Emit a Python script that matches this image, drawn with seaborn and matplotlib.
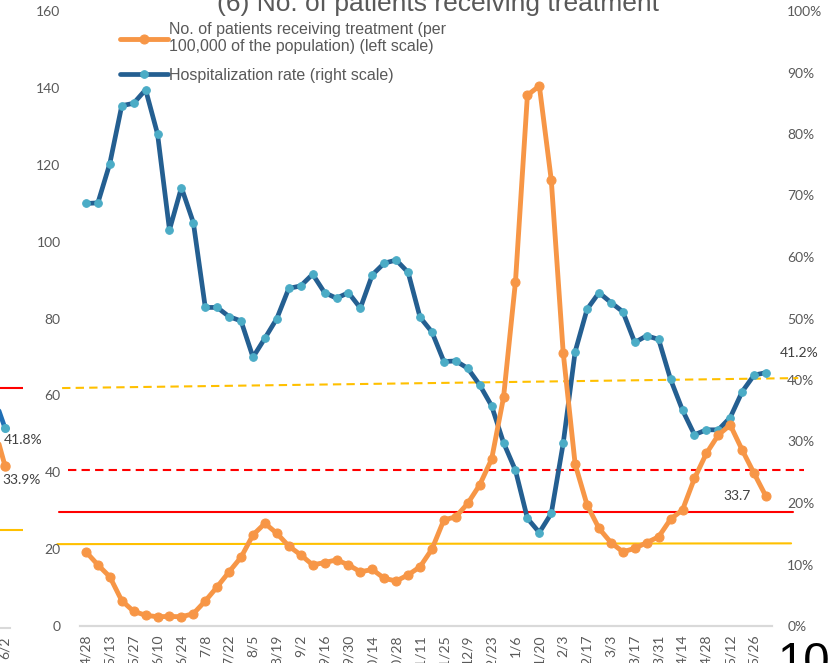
import numpy as np
import pandas as pd
import matplotlib.pyplot as plt
from matplotlib.ticker import FuncFormatter, MultipleLocator
import seaborn as sns

# ---------------------------------------------------------------
#   (6) No. of patients receiving treatment - weekly, two scales
# ---------------------------------------------------------------

# tick labels (every other week)
week_labels = ["4/28", "5/13", "5/27", "6/10", "6/24", "7/8", "7/22", "8/5",
               "8/19", "9/2", "9/16", "9/30", "10/14", "10/28", "11/11",
               "11/25", "12/9", "12/23", "1/6", "1/20", "2/3", "2/17", "3/3",
               "3/17", "3/31", "4/14", "4/28", "5/12", "5/26"]

# patients per 100,000 of the population (left scale)
patients = [19.3, 15.9, 12.8, 6.6, 3.8, 2.8, 2.4, 2.5, 2.4, 3.2,
            6.5, 10.2, 14.1, 17.9, 23.7, 26.7, 24.1, 20.8, 18.5, 15.9,
            16.5, 17.2, 15.9, 14.1, 14.7, 12.4, 11.7, 13.3, 15.4, 20.0,
            27.6, 28.4, 31.9, 36.7, 43.4, 59.5, 89.6, 138.1, 140.5, 116.0,
            71.1, 42.1, 31.5, 25.4, 21.7, 19.3, 20.2, 21.7, 23.2, 27.8,
            30.2, 38.4, 44.9, 49.7, 52.3, 45.8, 39.7, 33.7]

# hospitalization rate, % (right scale)
hosp_rate = [68.7, 68.8, 75.2, 84.6, 85.0, 87.2, 80.0, 64.4, 71.3, 65.6,
             51.8, 51.8, 50.3, 49.6, 43.7, 46.8, 50.0, 54.9, 55.3, 57.2,
             54.2, 53.3, 54.2, 51.7, 57.1, 59.0, 59.5, 57.5, 50.2, 47.8,
             43.0, 43.1, 41.9, 39.2, 35.8, 29.8, 25.3, 17.5, 15.2, 18.3,
             29.7, 44.6, 51.5, 54.2, 52.6, 51.1, 46.1, 47.2, 46.6, 40.1,
             35.1, 31.1, 31.9, 31.9, 33.9, 38.1, 40.8, 41.2]

# reference lines, left-scale units (start, end)
red_solid = (29.6, 29.6)
red_dashed = (40.6, 40.6)
yellow_solid = (21.3, 21.5)
yellow_dashed = (61.9, 64.5)

# tail of the neighbouring chart (cut off at the left edge)
prev_label = "6/2"
prev_rate = [49.0, 41.8]
prev_patients = [43.0, 33.9]
prev_red = 50.2
prev_yellow = 20.5

df = pd.DataFrame({"week": np.arange(len(patients)),
                   "patients": patients,
                   "rate": hosp_rate})

sns.set_style("white")
plt.rcParams["font.family"] = ["Liberation Sans", "DejaVu Sans"]

ORANGE = "#F79646"
NAVY = "#245F91"
LIGHTBLUE = "#4BACC6"
GREY = "#595959"
AXIS = "#D9D9D9"
NUMFONT = ["Lato", "DejaVu Sans"]

W, H = 833, 663
fig = plt.figure(figsize=(W / 100, H / 100), dpi=100)

# main chart
ax = fig.add_axes([80 / W, 37 / H, 692 / W, 615 / H])
ax2 = ax.twinx()
ax.set_zorder(ax2.get_zorder() + 1)
ax.patch.set_visible(False)

# reference lines (behind the series)
ref = [(red_solid, "#FF0000", "-", -2.3, 59.3),
       (red_dashed, "#FF0000", (0, (4, 2.5)), -1.5, 60.2),
       (yellow_solid, "#FFC000", "-", -2.4, 59.1),
       (yellow_dashed, "#FFC000", (0, (4, 2.5)), -2.0, 59.7)]
for (y0, y1), col, ls, x0, x1 in ref:
    ax2.plot([x0, x1], [y0, y1], color=col, linestyle=ls, linewidth=1.5,
             transform=ax.transData, clip_on=False, zorder=1)

sns.lineplot(data=df, x="week", y="rate", ax=ax2, color=NAVY, linewidth=3.4,
             marker="o", markersize=5.5, markerfacecolor=LIGHTBLUE,
             markeredgecolor=LIGHTBLUE, zorder=3,
             label="Hospitalization rate (right scale)", legend=False)
sns.lineplot(data=df, x="week", y="patients", ax=ax, color=ORANGE, linewidth=3.5,
             marker="o", markersize=6.5, markerfacecolor=ORANGE,
             markeredgecolor=ORANGE, zorder=3,
             label="No. of patients receiving treatment (per\n100,000 of the population) (left scale)",
             legend=False)

ax.set_xlim(-0.5, len(patients) - 0.5)
ax.set_ylim(0, 160)
ax2.set_ylim(0, 100)
ax.yaxis.set_major_locator(MultipleLocator(20))
ax2.yaxis.set_major_locator(MultipleLocator(10))
ax2.yaxis.set_major_formatter(FuncFormatter(lambda v, p: f"{v:.0f}%"))

ax.set_xticks(np.arange(0, len(patients), 2))
ax.set_xticklabels(week_labels, rotation=90, fontsize=10, color=GREY,
                   family=NUMFONT)
ax.tick_params(axis="x", length=0, pad=6)
ax.tick_params(axis="y", length=0, pad=14, labelsize=10, labelcolor=GREY)
ax2.tick_params(axis="y", length=0, pad=11, labelsize=10, labelcolor=GREY)
for lab in ax.get_yticklabels() + ax2.get_yticklabels():
    lab.set_family(NUMFONT)
ax.set_xlabel("")
ax.set_ylabel("")
ax2.set_ylabel("")

for a in (ax, ax2):
    for s in ("top", "left", "right"):
        a.spines[s].set_visible(False)
    a.spines["bottom"].set_color(AXIS)
    a.spines["bottom"].set_linewidth(1.5)

# data labels on the latest week
last = len(patients) - 1
ax2.annotate(f"{hosp_rate[-1]:.1f}%", (last, hosp_rate[-1]), xytext=(10, 10),
             textcoords="offset points", fontsize=10, color="#404040",
             family=NUMFONT, ha="left", va="bottom", annotation_clip=False)
ax.annotate(f"{patients[-1]:.1f}", (last, patients[-1]), xytext=(-11, 0),
            textcoords="offset points", fontsize=10, color="#404040",
            family=NUMFONT, ha="right", va="center")

# legend
handles = [ax.lines[-1], ax2.lines[-1]]
fig.legend(handles, [h.get_label() for h in handles], loc="upper left",
           bbox_to_anchor=(112 / W, 1 - 14 / H), frameon=False, borderpad=0,
           handlelength=3.0, handletextpad=0.05, labelspacing=0.85,
           fontsize=11.5, labelcolor=GREY)

fig.text(438 / W, 1 - 11 / H, "(6) No. of patients receiving treatment",
         ha="center", va="baseline", fontsize=19, color=GREY)

# neighbouring chart fragments
axp = fig.add_axes([-30 / W, 35 / H, 40 / W, 617 / H])
axp.plot([1, 2], prev_rate, color="#1F6FB5", linewidth=3.4, marker="o",
         markersize=5.5, markerfacecolor=LIGHTBLUE, markeredgecolor=LIGHTBLUE)
axp.plot([1, 2], prev_patients, color=ORANGE, linewidth=3.5, marker="o",
         markersize=6.5, markerfacecolor=ORANGE, markeredgecolor=ORANGE)
axp.hlines([prev_red], -1, 3.5, color="#FF0000", linewidth=1.5, clip_on=False)
axp.hlines([prev_yellow], -1, 3.5, color="#FFC000", linewidth=1.5, clip_on=False)
axp.annotate(f"{prev_rate[-1]:.1f}%", (2, prev_rate[-1]), xytext=(-1, -4),
             textcoords="offset points", fontsize=10, color="#404040",
             family=NUMFONT, ha="left", va="top", annotation_clip=False)
axp.annotate(f"{prev_patients[-1]:.1f}%", (2, prev_patients[-1]), xytext=(-2, -6),
             textcoords="offset points", fontsize=10, color="#404040",
             family=NUMFONT, ha="left", va="top", annotation_clip=False)
axp.set_xlim(-0.917, 2.417)
axp.set_ylim(0, 129)
axp.set_xticks([2])
axp.set_xticklabels([prev_label], rotation=90, fontsize=10, color=GREY,
                    family=NUMFONT)
axp.set_yticks([])
axp.tick_params(axis="x", length=0, pad=6)
for s in ("top", "left", "right"):
    axp.spines[s].set_visible(False)
axp.spines["bottom"].set_color(AXIS)
axp.spines["bottom"].set_linewidth(1.5)
axp.patch.set_visible(False)

# start of the next panel, cut off at the right edge
fig.text(777 / W, 1 - 641 / H, "10", ha="left", va="top", fontsize=34,
         color="black")

fig.savefig("out.png", dpi=100)
